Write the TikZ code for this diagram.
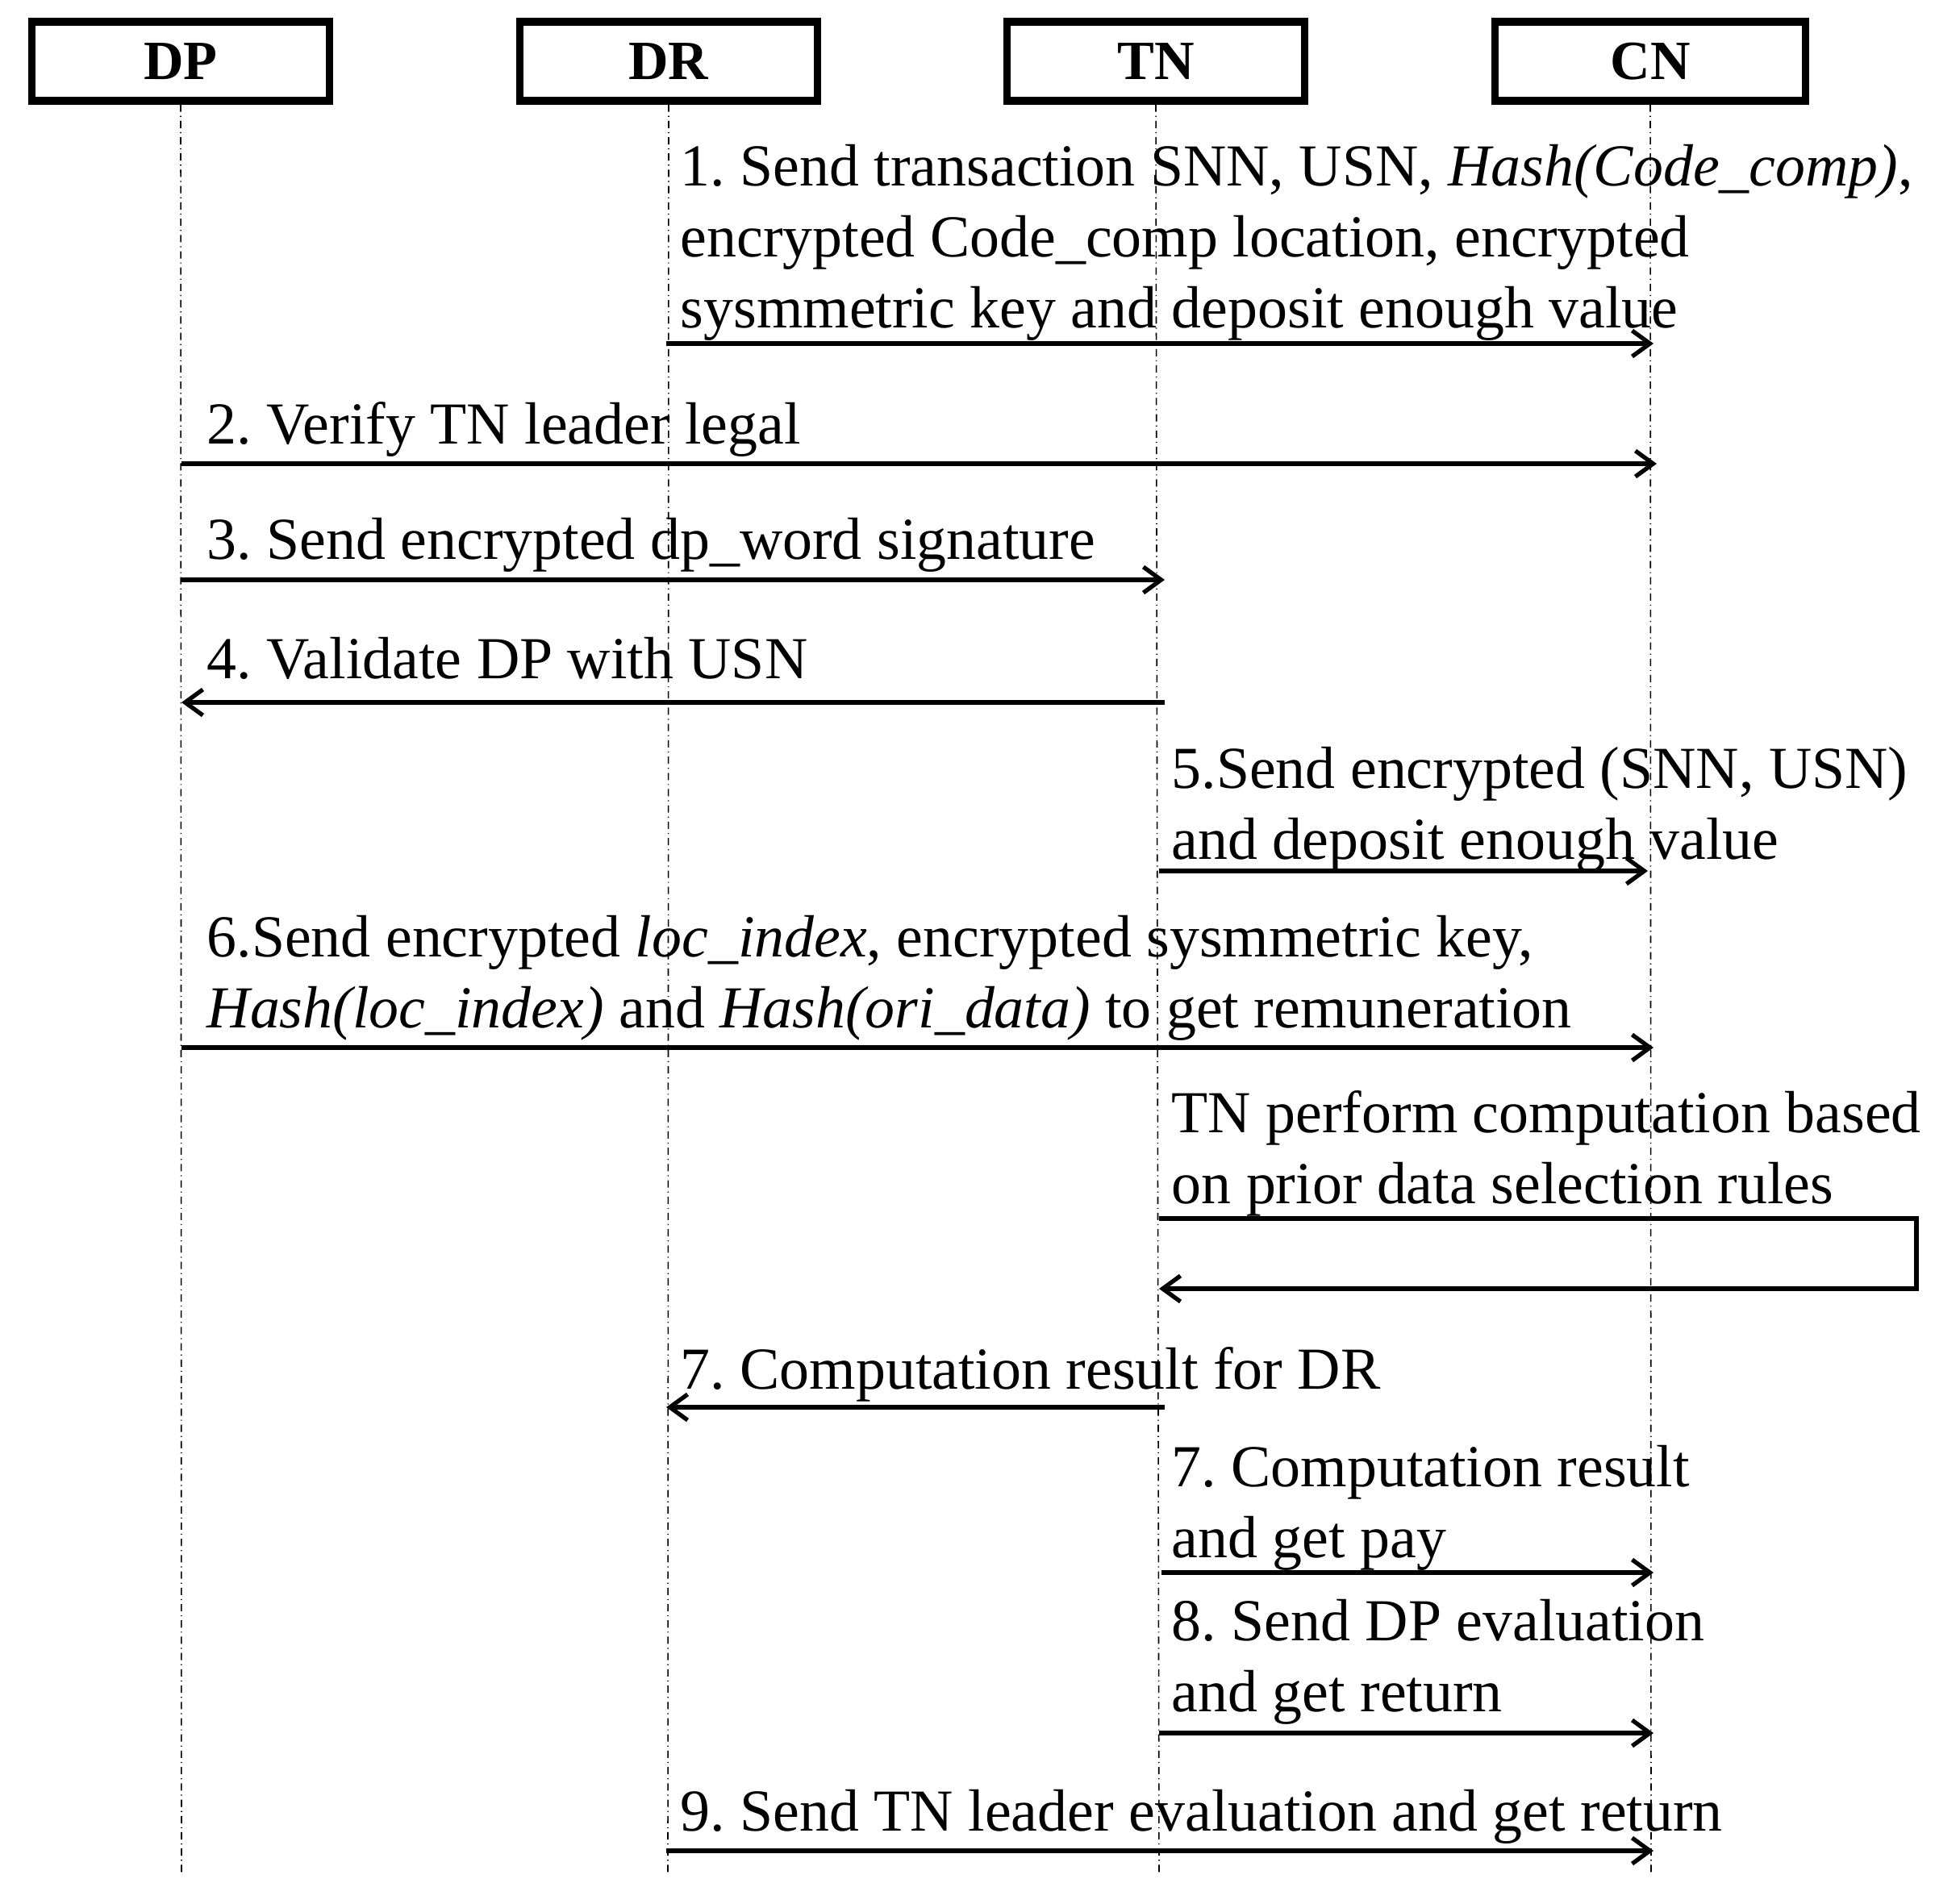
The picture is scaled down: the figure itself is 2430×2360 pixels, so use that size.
\documentclass[tikz,border=0pt]{standalone}
\usepackage{fontspec}
\setmainfont{Liberation Serif}
\usetikzlibrary{arrows.meta}
\frenchspacing
\begin{document}
\begin{tikzpicture}[x=0.01cm,y=-0.01cm,
  actor/.style={draw,line width=2.6pt,minimum width=3.68cm,minimum height=0.98cm,inner sep=0pt,font=\fontsize{19.5pt}{22pt}\selectfont\bfseries},
  lifeline/.style={line width=0.45pt,dash pattern=on 0.09cm off 0.05cm on 0.012cm off 0.05cm},
  msg/.style={line width=1.7pt,-{Straight Barb[length=0.22cm,width=0.32cm,line width=1.5pt]}},
  lbl/.style={anchor=base west,inner sep=0pt,align=left,font=\fontsize{21pt}{25pt}\selectfont}]
\useasboundingbox (0,0) rectangle (2430,2360);
% actors
\node[actor] (DP) at (224,76) {DP};
\node[actor] (DR) at (829,76) {DR};
\node[actor] (TN) at (1433,76) {TN};
\node[actor,minimum width=3.85cm] (CN) at (2046,76) {CN};
% lifeline ends
\coordinate (DPe) at (225,2325);
\coordinate (DRe) at (828,2325);
\coordinate (TNe) at (1437,2325);
\coordinate (CNe) at (2047,2325);
\draw[lifeline] (DP.south) -- (DPe);
\draw[lifeline] (DR.south) -- (DRe);
\draw[lifeline] (TN.south) -- (TNe);
\draw[lifeline] (CN.south) -- (CNe);
% message 1
\coordinate (m1s) at (826,426); \coordinate (m1e) at (2050,426);
\draw[msg] (m1s) -- (m1e);
\node[lbl] (t1) at (843,406) {1. Send transaction SNN, USN, \textit{Hash(Code\_comp)},\\encrypted Code\_comp location, encrypted\\sysmmetric key and deposit enough value};
% message 2
\coordinate (m2s) at (225,575); \coordinate (m2e) at (2054,575);
\draw[msg] (m2s) -- (m2e);
\node[lbl] (t2) at (256,550) {2. Verify TN leader legal};
% message 3
\coordinate (m3s) at (225,719); \coordinate (m3e) at (1444,719);
\draw[msg] (m3s) -- (m3e);
\node[lbl] (t3) at (256,693) {3. Send encrypted dp\_word signature};
% message 4
\coordinate (m4s) at (1444,871); \coordinate (m4e) at (225,871);
\draw[msg] (m4s) -- (m4e);
\node[lbl] (t4) at (256,841) {4. Validate DP with USN};
% message 5
\coordinate (m5s) at (1437,1080); \coordinate (m5e) at (2043,1080);
\draw[msg] (m5s) -- (m5e);
\node[lbl] (t5) at (1452,1065) {5.Send encrypted (SNN, USN)\\and deposit enough value};
% message 6
\coordinate (m6s) at (225,1299); \coordinate (m6e) at (2050,1299);
\draw[msg] (m6s) -- (m6e);
\node[lbl] (t6) at (256,1274) {6.Send encrypted \textit{loc\_index}, encrypted sysmmetric key,\\\textit{Hash(loc\_index)} and \textit{Hash(ori\_data)} to get remuneration};
% self loop
\coordinate (l1) at (1437,1511); \coordinate (l2) at (2376,1511);
\coordinate (l3) at (2376,1598); \coordinate (l4) at (1437,1598);
\draw[msg] (l1) -- (l2) -- (l3) -- (l4);
\node[lbl] (tl) at (1452,1492) {TN perform computation based\\on prior data selection rules};
% message 7a
\coordinate (m7s) at (1444,1745); \coordinate (m7e) at (826,1745);
\draw[msg] (m7s) -- (m7e);
\node[lbl] (t7) at (843,1722) {7. Computation result for DR};
% message 7b
\coordinate (m7bs) at (1440,1950); \coordinate (m7be) at (2050,1950);
\draw[msg] (m7bs) -- (m7be);
\node[lbl] (t7b) at (1452,1931) {7. Computation result\\and get pay};
% message 8
\coordinate (m8s) at (1437,2149); \coordinate (m8e) at (2050,2149);
\draw[msg] (m8s) -- (m8e);
\node[lbl] (t8) at (1452,2122) {8. Send DP evaluation\\and get return};
% message 9
\coordinate (m9s) at (826,2295); \coordinate (m9e) at (2050,2295);
\draw[msg] (m9s) -- (m9e);
\node[lbl] (t9) at (843,2270) {9. Send TN leader evaluation and get return};
\end{tikzpicture}
\end{document}
